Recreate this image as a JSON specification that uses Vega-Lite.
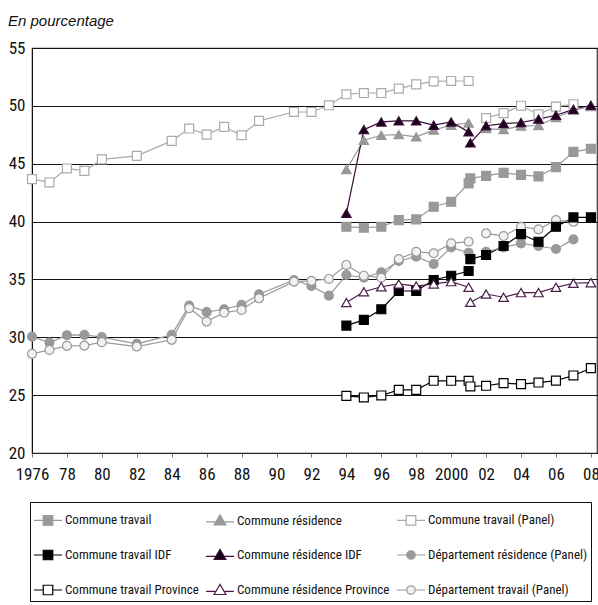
{
  "$schema": "https://vega.github.io/schema/vega-lite/v6.json",
  "width": 565,
  "height": 405,
  "autosize": {"type": "none"},
  "padding": {"left": 32, "top": 48, "right": 1, "bottom": 152},
  "background": "white",
  "title": {"text": "En pourcentage", "anchor": "start", "frame": "group", "dx": -24, "offset": 10, "font": "Liberation Sans", "fontStyle": "italic", "fontWeight": "normal", "fontSize": 15, "color": "#111"},
  "config": {
    "font": "Roboto Condensed, Liberation Sans Narrow, Liberation Sans, sans-serif",
    "view": {"stroke": "#333", "strokeWidth": 1.2},
    "legend": {"labelFontSize": 13, "labelColor": "#111", "labelFont": "Roboto Condensed, Liberation Sans Narrow, Liberation Sans, sans-serif", "symbolSize": 784, "symbolStrokeWidth": 1.2, "labelOffset": 2, "rowPadding": 12, "columnPadding": 4, "padding": 3, "strokeColor": "#111", "columns": 3, "labelLimit": 300}
  },
  "data": {"values": [
    {"x": 1976, "seg": "a", "Commune travail (Panel)": 43.67, "Département résidence (Panel)": 30.06, "Département travail (Panel)": 28.57},
    {"x": 1977, "seg": "a", "Commune travail (Panel)": 43.38, "Département résidence (Panel)": 29.54, "Département travail (Panel)": 28.91},
    {"x": 1978, "seg": "a", "Commune travail (Panel)": 44.59, "Département résidence (Panel)": 30.18, "Département travail (Panel)": 29.26},
    {"x": 1979, "seg": "a", "Commune travail (Panel)": 44.38, "Département résidence (Panel)": 30.21, "Département travail (Panel)": 29.28},
    {"x": 1980, "seg": "a", "Commune travail (Panel)": 45.37, "Département résidence (Panel)": 30.01, "Département travail (Panel)": 29.58},
    {"x": 1982, "seg": "a", "Commune travail (Panel)": 45.68, "Département résidence (Panel)": 29.43, "Département travail (Panel)": 29.2},
    {"x": 1984, "seg": "a", "Commune travail (Panel)": 46.97, "Département résidence (Panel)": 30.21, "Département travail (Panel)": 29.78},
    {"x": 1985, "seg": "a", "Commune travail (Panel)": 48.04, "Département résidence (Panel)": 32.74, "Département travail (Panel)": 32.51},
    {"x": 1986, "seg": "a", "Commune travail (Panel)": 47.52, "Département résidence (Panel)": 32.17, "Département travail (Panel)": 31.36},
    {"x": 1987, "seg": "a", "Commune travail (Panel)": 48.18, "Département résidence (Panel)": 32.42, "Département travail (Panel)": 32.13},
    {"x": 1988, "seg": "a", "Commune travail (Panel)": 47.46, "Département résidence (Panel)": 32.8, "Département travail (Panel)": 32.36},
    {"x": 1989, "seg": "a", "Commune travail (Panel)": 48.7, "Département résidence (Panel)": 33.72, "Département travail (Panel)": 33.37},
    {"x": 1991, "seg": "a", "Commune travail (Panel)": 49.47, "Département résidence (Panel)": 34.95, "Département travail (Panel)": 34.81},
    {"x": 1992, "seg": "a", "Commune travail (Panel)": 49.47, "Département résidence (Panel)": 34.43, "Département travail (Panel)": 34.87},
    {"x": 1993, "seg": "a", "Commune travail (Panel)": 50.05, "Département résidence (Panel)": 33.6, "Département travail (Panel)": 35.04},
    {"x": 1994, "seg": "a", "Commune travail (Panel)": 51.0, "Département résidence (Panel)": 35.38, "Département travail (Panel)": 36.25, "Commune travail": 39.55, "Commune résidence": 44.5, "Commune travail IDF": 31.01, "Commune résidence IDF": 40.71, "Commune travail Province": 24.94, "Commune résidence Province": 33.0},
    {"x": 1995, "seg": "a", "Commune travail (Panel)": 51.11, "Département résidence (Panel)": 35.15, "Département travail (Panel)": 35.32, "Commune travail": 39.47, "Commune résidence": 47.03, "Commune travail IDF": 31.5, "Commune résidence IDF": 47.95, "Commune travail Province": 24.8, "Commune résidence Province": 33.94},
    {"x": 1996, "seg": "a", "Commune travail (Panel)": 51.11, "Département résidence (Panel)": 35.62, "Département travail (Panel)": 35.15, "Commune travail": 39.55, "Commune résidence": 47.46, "Commune travail IDF": 32.42, "Commune résidence IDF": 48.61, "Commune travail Province": 24.97, "Commune résidence Province": 34.37},
    {"x": 1997, "seg": "a", "Commune travail (Panel)": 51.49, "Département résidence (Panel)": 36.59, "Département travail (Panel)": 36.76, "Commune travail": 40.13, "Commune résidence": 47.52, "Commune travail IDF": 34.0, "Commune résidence IDF": 48.7, "Commune travail Province": 25.46, "Commune résidence Province": 34.61},
    {"x": 1998, "seg": "a", "Commune travail (Panel)": 51.86, "Département résidence (Panel)": 36.97, "Département travail (Panel)": 37.39, "Commune travail": 40.19, "Commune résidence": 47.32, "Commune travail IDF": 34.0, "Commune résidence IDF": 48.7, "Commune travail Province": 25.46, "Commune résidence Province": 34.43},
    {"x": 1999, "seg": "a", "Commune travail (Panel)": 52.12, "Département résidence (Panel)": 36.33, "Département travail (Panel)": 37.26, "Commune travail": 41.28, "Commune résidence": 47.9, "Commune travail IDF": 34.95, "Commune résidence IDF": 48.33, "Commune travail Province": 26.24, "Commune résidence Province": 34.61},
    {"x": 2000, "seg": "a", "Commune travail (Panel)": 52.15, "Département résidence (Panel)": 37.77, "Département travail (Panel)": 38.12, "Commune travail": 41.71, "Commune résidence": 48.33, "Commune travail IDF": 35.32, "Commune résidence IDF": 48.61, "Commune travail Province": 26.24, "Commune résidence Province": 34.81},
    {"x": 2001, "seg": "a", "Commune travail (Panel)": 52.15, "Département résidence (Panel)": 37.31, "Département travail (Panel)": 38.26, "Commune travail": 43.3, "Commune résidence": 48.52, "Commune travail IDF": 35.73, "Commune résidence IDF": 47.75, "Commune travail Province": 26.24, "Commune résidence Province": 34.32},
    {"x": 2001.1, "seg": "b", "Commune travail": 43.73, "Commune travail IDF": 36.76, "Commune résidence IDF": 46.8, "Commune travail Province": 25.75, "Commune résidence Province": 33.03},
    {"x": 2002, "seg": "b", "Commune travail (Panel)": 48.95, "Département résidence (Panel)": 37.39, "Département travail (Panel)": 38.98, "Commune travail": 43.95, "Commune résidence": 48.04, "Commune travail IDF": 37.11, "Commune résidence IDF": 48.28, "Commune travail Province": 25.81, "Commune résidence Province": 33.74},
    {"x": 2003, "seg": "b", "Commune travail (Panel)": 49.37, "Département résidence (Panel)": 37.77, "Département travail (Panel)": 38.75, "Commune travail": 44.21, "Commune résidence": 47.95, "Commune travail IDF": 37.89, "Commune résidence IDF": 48.47, "Commune travail Province": 26.04, "Commune résidence Province": 33.46},
    {"x": 2004, "seg": "b", "Commune travail (Panel)": 50.01, "Département résidence (Panel)": 38.12, "Département travail (Panel)": 39.55, "Commune travail": 44.04, "Commune résidence": 48.25, "Commune travail IDF": 38.92, "Commune résidence IDF": 48.56, "Commune travail Province": 25.95, "Commune résidence Province": 33.86},
    {"x": 2005, "seg": "b", "Commune travail (Panel)": 49.26, "Département résidence (Panel)": 37.89, "Département travail (Panel)": 39.33, "Commune travail": 43.9, "Commune résidence": 48.3, "Commune travail IDF": 38.26, "Commune résidence IDF": 48.86, "Commune travail Province": 26.09, "Commune résidence Province": 33.86},
    {"x": 2006, "seg": "b", "Commune travail (Panel)": 49.93, "Département résidence (Panel)": 37.63, "Département travail (Panel)": 40.13, "Commune travail": 44.7, "Commune résidence": 49.0, "Commune travail IDF": 39.55, "Commune résidence IDF": 49.19, "Commune travail Province": 26.26, "Commune résidence Province": 34.32},
    {"x": 2007, "seg": "b", "Commune travail (Panel)": 50.14, "Département résidence (Panel)": 38.46, "Département travail (Panel)": 39.98, "Commune travail": 46.02, "Commune résidence": 49.62, "Commune travail IDF": 40.36, "Commune résidence IDF": 49.7, "Commune travail Province": 26.7, "Commune résidence Province": 34.67},
    {"x": 2008, "seg": "b", "Commune travail": 46.29, "Commune résidence": 49.95, "Commune travail IDF": 40.36, "Commune résidence IDF": 50.05, "Commune travail Province": 27.33, "Commune résidence Province": 34.72}
  ]},
  "transform": [
    {"fold": ["Commune travail", "Commune résidence", "Commune travail (Panel)", "Commune travail IDF", "Commune résidence IDF", "Département résidence (Panel)", "Commune travail Province", "Commune résidence Province", "Département travail (Panel)"], "as": ["s", "v"]},
    {"filter": "isValid(datum.v)"}
  ],
  "encoding": {
    "x": {"field": "x", "type": "quantitative", "scale": {"domain": [1976, 2008.35], "nice": false, "zero": false},
      "axis": {"title": null, "values": [1976, 1978, 1980, 1982, 1984, 1986, 1988, 1990, 1992, 1994, 1996, 1998, 2000, 2002, 2004, 2006, 2008],
        "labelExpr": "datum.value == 1976 || datum.value == 2000 ? '' + datum.value : substring('' + datum.value, 2)",
        "grid": false, "tickSize": 4, "tickColor": "#777", "domainColor": "#222", "labelFontSize": 17, "labelColor": "#111", "labelPadding": 9, "labelOverlap": false, "labelFlush": false}},
    "y": {"field": "v", "type": "quantitative", "scale": {"domain": [20, 55], "nice": false, "zero": false},
      "axis": {"title": null, "values": [20, 25, 30, 35, 40, 45, 50, 55], "grid": true, "gridColor": "#111", "gridWidth": 1, "tickSize": 0, "domainColor": "#111", "labelFontSize": 17, "labelColor": "#111", "labelPadding": 7}}
  },
  "layer": [
    {
      "transform": [{"filter": "datum.v > 1000"}],
      "mark": {"type": "point", "filled": true, "opacity": 1, "size": 80, "strokeWidth": 1.2},
      "encoding": {
        "fill": {"field": "s", "type": "nominal",
          "scale": {"domain": ["Commune travail", "Commune résidence", "Commune travail (Panel)", "Commune travail IDF", "Commune résidence IDF", "Département résidence (Panel)", "Commune travail Province", "Commune résidence Province", "Département travail (Panel)"],
            "range": ["#999999", "#999999", "#ffffff", "#000000", "#1a0018", "#999999", "#ffffff", "#ffffff", "#f2f2f2"]},
          "legend": {"title": null, "orient": "none", "legendX": -2, "legendY": 454, "direction": "horizontal", "columns": 3}},
        "stroke": {"field": "s", "type": "nominal",
          "scale": {"domain": ["Commune travail", "Commune résidence", "Commune travail (Panel)", "Commune travail IDF", "Commune résidence IDF", "Département résidence (Panel)", "Commune travail Province", "Commune résidence Province", "Département travail (Panel)"],
            "range": ["#999999", "#999999", "#aaaaaa", "#000000", "#3a0d3a", "#999999", "#000000", "#4a1d4a", "#999999"]},
          "legend": {"title": null, "orient": "none", "legendX": -2, "legendY": 454, "direction": "horizontal", "columns": 3}},
        "shape": {"field": "s", "type": "nominal",
          "scale": {"domain": ["Commune travail", "Commune résidence", "Commune travail (Panel)", "Commune travail IDF", "Commune résidence IDF", "Département résidence (Panel)", "Commune travail Province", "Commune résidence Province", "Département travail (Panel)"],
            "range": ["M-1,0H-0.34M0.34,0H1M-0.34,-0.34H0.34V0.34H-0.34Z", "M-1,0.1H-0.3M0.3,0.1H1M0,-0.4L0.42,0.32H-0.42Z", "M-1,0H-0.34M0.34,0H1M-0.34,-0.34H0.34V0.34H-0.34Z", "M-1,0H-0.34M0.34,0H1M-0.34,-0.34H0.34V0.34H-0.34Z", "M-1,0.1H-0.3M0.3,0.1H1M0,-0.4L0.42,0.32H-0.42Z", "M-1,0H-0.3M0.3,0H1M-0.3,0A0.3,0.3,0,1,1,0.3,0A0.3,0.3,0,1,1,-0.3,0Z", "M-1,0H-0.34M0.34,0H1M-0.34,-0.34H0.34V0.34H-0.34Z", "M-1,0.1H-0.3M0.3,0.1H1M0,-0.4L0.42,0.32H-0.42Z", "M-1,0H-0.3M0.3,0H1M-0.3,0A0.3,0.3,0,1,1,0.3,0A0.3,0.3,0,1,1,-0.3,0Z"]},
          "legend": {"title": null, "orient": "none", "legendX": -2, "legendY": 454, "direction": "horizontal", "columns": 3}}
      }
    },
    {
      "mark": {"type": "line", "strokeWidth": 1.2},
      "encoding": {
        "detail": {"field": "seg"},
        "stroke": {"field": "s", "type": "nominal"}
      }
    },
    {
      "transform": [{"filter": "indexof(datum.s, 'Département') === 0"}],
      "mark": {"type": "point", "shape": "circle", "filled": true, "opacity": 1, "size": 80, "strokeWidth": 1.2},
      "encoding": {
        "fill": {"field": "s", "type": "nominal"},
        "stroke": {"field": "s", "type": "nominal"}
      }
    },
    {
      "transform": [{"filter": "indexof(datum.s, 'Département') !== 0 && indexof(datum.s, 'résidence') < 0"}],
      "mark": {"type": "point", "shape": "square", "filled": true, "opacity": 1, "size": 80, "strokeWidth": 1.2},
      "encoding": {
        "fill": {"field": "s", "type": "nominal"},
        "stroke": {"field": "s", "type": "nominal"}
      }
    },
    {
      "transform": [{"filter": "indexof(datum.s, 'Département') !== 0 && indexof(datum.s, 'résidence') >= 0"}],
      "mark": {"type": "point", "shape": "triangle-up", "filled": true, "opacity": 1, "size": 90, "strokeWidth": 1.2},
      "encoding": {
        "fill": {"field": "s", "type": "nominal"},
        "stroke": {"field": "s", "type": "nominal"}
      }
    }
  ]
}
